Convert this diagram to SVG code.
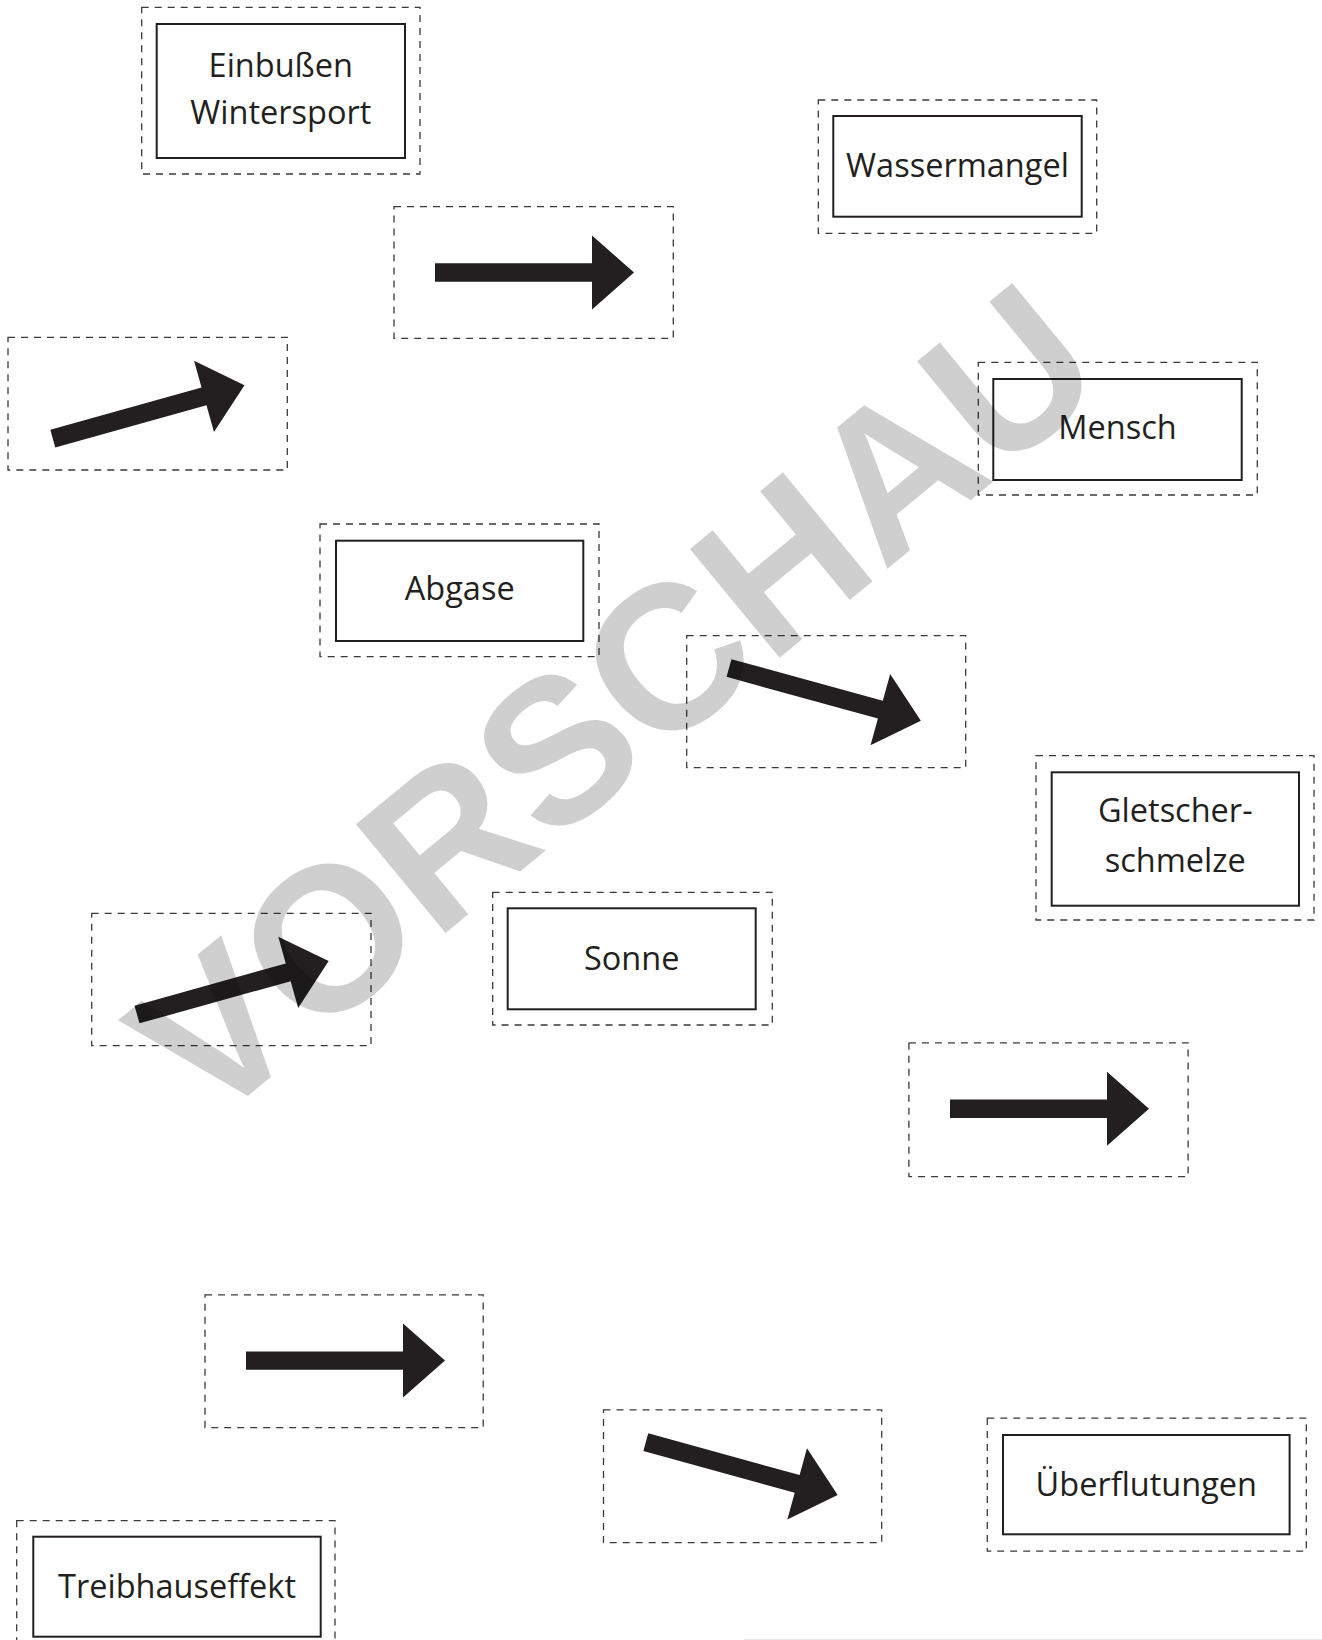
<svg xmlns="http://www.w3.org/2000/svg" width="1322" height="1640" viewBox="0 0 1322 1640">
<style>
.cut{fill:none;stroke:#3a3a3a;stroke-width:1.3;stroke-dasharray:7 6}
.box{fill:#fff;stroke:#231f20;stroke-width:2}
.lbl{font-family:"Open Sans",sans-serif;font-size:32.5px;fill:#231f20;text-anchor:middle}
.wm{font-family:"Liberation Sans",Arial,sans-serif;font-weight:bold;font-size:205px;fill:#000;fill-opacity:0.19;text-anchor:middle}
</style>
<defs>
<path id="arr" d="M0,-9.2 H157 V-37 L199,0 L157,37 V9.2 H0 Z" fill="#231f20"/>
</defs>
<rect width="1322" height="1640" fill="#fff"/>

<g id="n-einbussen">
<rect class="cut" x="141.7" y="7.3" width="278.3" height="166.7"/>
<rect class="box" x="156.7" y="24" width="248.3" height="134"/>
<text class="lbl" x="280.8" y="77.3">Einbußen</text>
<text class="lbl" x="280.8" y="124">Wintersport</text>
</g>
<g id="n-wassermangel">
<rect class="cut" x="818.3" y="100" width="278.4" height="133.3"/>
<rect class="box" x="833.3" y="116" width="248.4" height="100.7"/>
<text class="lbl" x="957.5" y="177.3">Wassermangel</text>
</g>
<g id="n-mensch">
<rect class="cut" x="978.3" y="362.3" width="279" height="132.7"/>
<rect class="box" x="993.3" y="379" width="248.4" height="101"/>
<text class="lbl" x="1117.5" y="439">Mensch</text>
</g>
<g id="n-abgase">
<rect class="cut" x="320" y="524" width="279" height="132.7"/>
<rect class="box" x="336" y="540.7" width="247.3" height="100.3"/>
<text class="lbl" x="459.7" y="600">Abgase</text>
</g>
<g id="n-gletscher">
<rect class="cut" x="1036" y="755.7" width="278" height="164.3"/>
<rect class="box" x="1051.7" y="772.3" width="247.3" height="133.4"/>
<text class="lbl" x="1175.3" y="822.3">Gletscher-</text>
<text class="lbl" x="1175.3" y="871.5">schmelze</text>
</g>
<g id="n-sonne">
<rect class="cut" x="492.7" y="892.3" width="279.6" height="132.7"/>
<rect class="box" x="507.7" y="908.3" width="248" height="101"/>
<text class="lbl" x="631.7" y="970">Sonne</text>
</g>
<g id="n-ueberflutungen">
<rect class="cut" x="987.3" y="1418.2" width="319" height="132.9"/>
<rect class="box" x="1003" y="1435" width="286.6" height="99.3"/>
<text class="lbl" x="1146.3" y="1495.5">Überflutungen</text>
</g>
<g id="n-treibhauseffekt">
<rect class="cut" x="16.7" y="1520.7" width="318.3" height="140"/>
<rect class="box" x="33.3" y="1536.7" width="287.4" height="100"/>
<text class="lbl" x="177" y="1598">Treibhauseffekt</text>
</g>

<g id="connectors">
<g id="a1"><rect class="cut" x="394" y="206.7" width="279.3" height="131.6"/><use href="#arr" transform="translate(435,272.5)"/></g>
<g id="a2"><rect class="cut" x="8" y="337.3" width="279.3" height="132.7"/><use href="#arr" transform="translate(52.8,438.7) rotate(-15.6)"/></g>
<g id="a3"><rect class="cut" x="686.7" y="635.7" width="279" height="132"/><use href="#arr" transform="translate(729,668) rotate(15.4)"/></g>
<g id="a4"><rect class="cut" x="91.7" y="913.3" width="279.3" height="132.4"/><use href="#arr" transform="translate(137,1014.5) rotate(-15.6)"/></g>
<g id="a5"><rect class="cut" x="908.9" y="1042.8" width="279.2" height="133.8"/><use href="#arr" transform="translate(950,1108.8)"/></g>
<g id="a6"><rect class="cut" x="205" y="1294.8" width="278.2" height="132.8"/><use href="#arr" transform="translate(246,1360.6)"/></g>
<g id="a7"><rect class="cut" x="603.5" y="1409.9" width="278.2" height="132.8"/><use href="#arr" transform="translate(645.8,1442.2) rotate(15.4)"/></g>
</g>

<line x1="744" y1="1639.5" x2="1322" y2="1639.5" stroke="#e8e8e8" stroke-width="1"/>

<text class="wm" transform="translate(659,757) rotate(-39.5)">VORSCHAU</text>
</svg>
